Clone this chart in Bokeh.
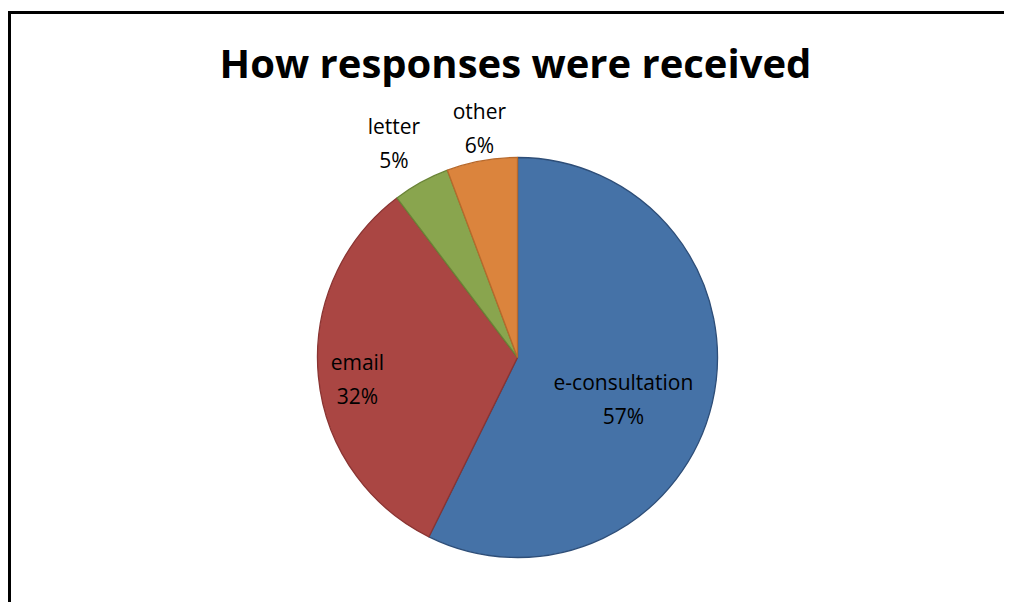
import math
from bokeh.plotting import figure
from bokeh.models import ColumnDataSource, Range1d
from bokeh.core.properties import value
from bokeh.embed import file_html
from bokeh.resources import INLINE

# ---- data ----
categories = ["e-consultation", "email", "letter", "other"]
shares = [57.3, 32.4, 4.6, 5.7]
colors = ["#4572A7", "#AA4643", "#89A54E", "#DB843D"]
edge_colors = ["#2E4E78", "#8A3432", "#6A8436", "#B7692C"]
title_text = "How responses were received"

# ---- layout (1 data unit = 1 px) ----
W, H = 1004, 602
cx, cy, R = 517, 245, 200
label_r = [0.569, 0.808, 1.24, 1.161]          # label distance as fraction of radius
label_da = [8.3, -2.4, -1.1, 0.8]              # angle tweak (deg, clockwise)
line_gap = 17
frame_left, frame_top = 9, H - 12

p = figure(width=W, height=H, output_backend="svg", toolbar_location=None,
           x_range=Range1d(0, W), y_range=Range1d(0, H),
           min_border=0, min_border_left=0, min_border_right=0,
           min_border_top=0, min_border_bottom=0)
p.axis.visible = False
p.grid.visible = False
p.outline_line_color = None
p.background_fill_color = "white"
p.border_fill_color = "white"

total = sum(shares)
starts, ends, lx, ly, names, pcts = [], [], [], [], [], []
cum = 0.0
for i, v in enumerate(shares):
    a0 = cum / total * 360.0
    a1 = (cum + v) / total * 360.0
    cum += v
    starts.append(math.radians(90 - a0))
    ends.append(math.radians(90 - a1))
    mid = (a0 + a1) / 2 + label_da[i]
    r = label_r[i] * R
    lx.append(cx + r * math.sin(math.radians(mid)))
    ly.append(cy + r * math.cos(math.radians(mid)))
    names.append(categories[i])
    pcts.append(f"{round(v / total * 100)}%")

src = ColumnDataSource(dict(start=starts, end=ends, color=colors, edge=edge_colors,
                            lx=lx, name=names, pct=pcts,
                            ny=[y + line_gap for y in ly], py=[y - line_gap for y in ly]))

# chart-area border (left and top visible; right/bottom fall outside the picture)
p.line(x=[frame_left, frame_left, W + 50], y=[-50, frame_top, frame_top],
       line_color="black", line_width=3, line_join="miter")

p.wedge(x=cx, y=cy, radius=R, start_angle="start", end_angle="end", direction="clock",
        fill_color="color", line_color="edge", line_width=1.3, source=src)

font = value("Open Sans")
p.text(x="lx", y="ny", text="name", source=src, text_font=font, text_font_size="21px",
       text_align="center", text_baseline="middle", text_color="black")
p.text(x="lx", y="py", text="pct", source=src, text_font=font, text_font_size="21px",
       text_align="center", text_baseline="middle", text_color="black")

p.text(x=[cx - 2], y=[H - 62], text=[title_text], text_font=font, text_font_size="40px",
       text_font_style="bold", text_align="center", text_baseline="middle",
       text_color="black")

open("out.html", "w").write(file_html(p, INLINE))
